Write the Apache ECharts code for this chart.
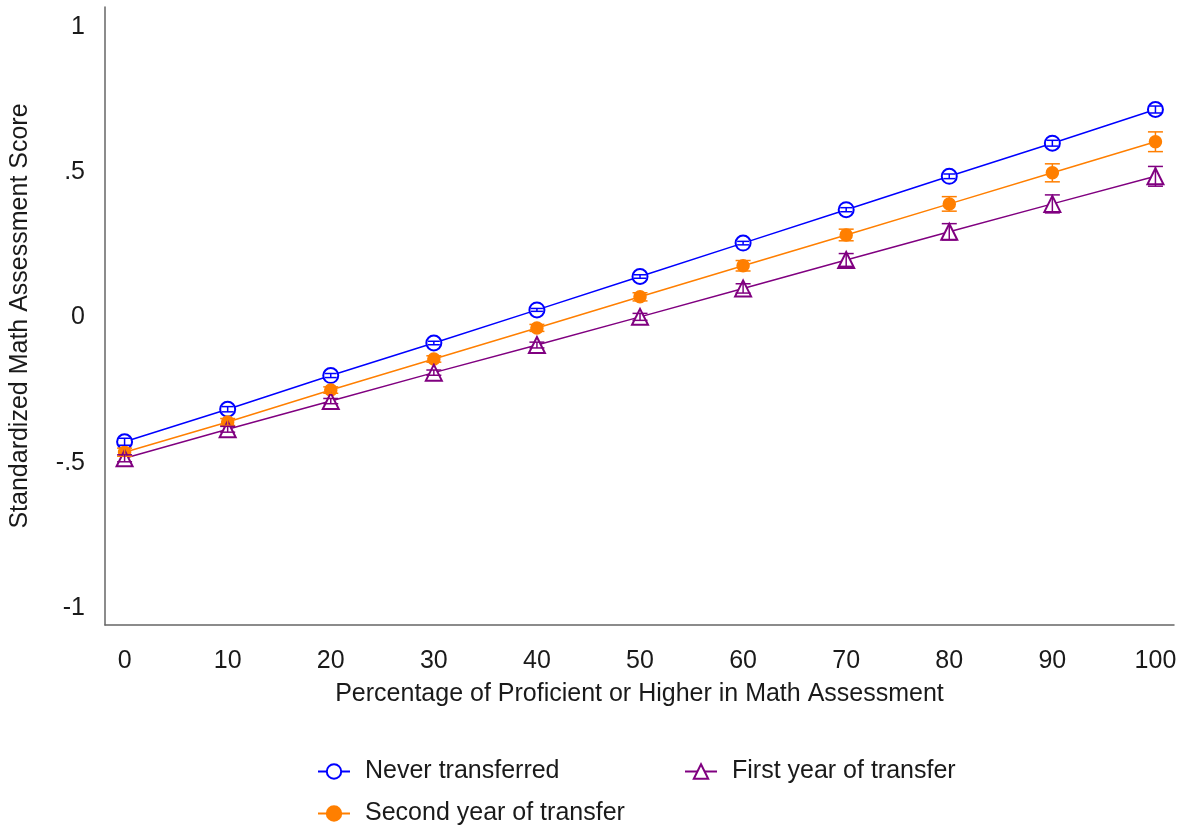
<!DOCTYPE html>
<html>
<head>
<meta charset="utf-8">
<script src="https://cdn.jsdelivr.net/npm/echarts@6/dist/echarts.min.js"></script>
<style>html,body{margin:0;padding:0;background:#fff}#c{width:1183px;height:828px}</style>
</head>
<body>
<div id="c"></div>
<script>
const xValues = [0, 10, 20, 30, 40, 50, 60, 70, 80, 90, 100];
const neverTransferred = [-0.428, -0.316, -0.200, -0.088, 0.026, 0.141, 0.256, 0.371, 0.486, 0.600, 0.716];
const neverErr = [0.012, 0.009, 0.007, 0.006, 0.005, 0.006, 0.006, 0.007, 0.008, 0.010, 0.012];
const secondYear = [-0.464, -0.360, -0.250, -0.143, -0.036, 0.071, 0.178, 0.284, 0.391, 0.498, 0.605];
const secondErr = [0.014, 0.012, 0.011, 0.011, 0.012, 0.014, 0.018, 0.020, 0.025, 0.031, 0.034];
const firstYear = [-0.485, -0.385, -0.288, -0.190, -0.095, 0.002, 0.100, 0.198, 0.295, 0.391, 0.486];
const firstErr = [0.012, 0.010, 0.009, 0.009, 0.010, 0.012, 0.016, 0.022, 0.028, 0.031, 0.034];
const yTicks = [-1, -0.5, 0, 0.5, 1];
const yTickLabels = ['-1', '-.5', '0', '.5', '1'];
const xTicks = [0, 10, 20, 30, 40, 50, 60, 70, 80, 90, 100];
const seriesNames = ['Never transferred', 'Second year of transfer', 'First year of transfer'];

const FONT = 'Liberation Sans, Arial, sans-serif';
const FS = 25;
const colors = ['#0000ff', '#ff7f00', '#800080'];

function pts(ys) { return xValues.map((x, i) => [x, ys[i]]); }
function errData(ys, es) { return xValues.map((x, i) => [x, ys[i] - es[i], ys[i] + es[i]]); }

function errSeries(name, ys, es, color, capW) {
  return {
    type: 'custom', name: name, z: 5,
    encode: { x: 0, y: [1, 2] },
    data: errData(ys, es),
    renderItem: function (params, api) {
      const x = api.value(0), lo = api.value(1), hi = api.value(2);
      const a = api.coord([x, lo]), b = api.coord([x, hi]);
      const w = capW / 2;
      const st = { stroke: color, lineWidth: 1.5 };
      return { type: 'group', children: [
        { type: 'line', shape: { x1: a[0], y1: a[1], x2: b[0], y2: b[1] }, style: st },
        { type: 'line', shape: { x1: a[0] - w, y1: a[1], x2: a[0] + w, y2: a[1] }, style: st },
        { type: 'line', shape: { x1: b[0] - w, y1: b[1], x2: b[0] + w, y2: b[1] }, style: st }
      ]};
    }
  };
}

function lineSeries(name, ys, color, symbol, size, z) {
  return {
    type: 'line', name: name, data: pts(ys), z: z,
    symbol: symbol, symbolSize: size, showAllSymbol: true,
    itemStyle: { color: color, borderColor: color, borderWidth: 1.5 },
    lineStyle: { color: color, width: 1.5 },
    emphasis: { disabled: true }, animation: false
  };
}

const chart = echarts.init(document.getElementById('c'), null, { renderer: 'canvas' });
const legendBase = {
  orient: 'horizontal', itemWidth: 32, itemHeight: 18, selectedMode: false,
  textStyle: { fontFamily: FONT, fontSize: FS, color: '#1a1a1a', padding: [0, 0, 0, 10] }
};
chart.setOption({
  backgroundColor: '#ffffff',
  animation: false,
  grid: { left: 104.5, right: 9, top: 7, bottom: 203, containLabel: false },
  legend: [
    Object.assign({}, legendBase, { left: 312, top: 754, data: [seriesNames[0]] }),
    Object.assign({}, legendBase, { left: 679, top: 754, data: [seriesNames[2]] }),
    Object.assign({}, legendBase, { left: 312, top: 796, data: [seriesNames[1]] })
  ],
  xAxis: {
    type: 'value', min: -1.9, max: 101.8,
    name: 'Percentage of Proficient or Higher in Math Assessment',
    nameLocation: 'middle', nameGap: 57,
    nameTextStyle: { fontFamily: FONT, fontSize: FS, color: '#1a1a1a' },
    axisLine: { show: true, onZero: false, lineStyle: { color: '#666666', width: 1.5 } },
    axisTick: { show: false },
    splitLine: { show: false },
    axisLabel: { customValues: xTicks, fontFamily: FONT, fontSize: FS, color: '#1a1a1a', margin: 24 }
  },
  yAxis: {
    type: 'value', min: -1.059, max: 1.069,
    name: 'Standardized Math Assessment Score',
    nameLocation: 'middle', nameGap: 72,
    nameTextStyle: { fontFamily: FONT, fontSize: FS, color: '#1a1a1a' },
    axisLine: { show: true, onZero: false, lineStyle: { color: '#666666', width: 1.5 } },
    axisTick: { show: false },
    splitLine: { show: false },
    axisLabel: {
      customValues: yTicks, fontFamily: FONT, fontSize: FS, color: '#1a1a1a', margin: 20,
      formatter: function (v) { const i = yTicks.findIndex(t => Math.abs(t - v) < 1e-9); return i >= 0 ? yTickLabels[i] : ''; }
    }
  },
  series: [
    lineSeries(seriesNames[0], neverTransferred, colors[0], 'emptyCircle', 15, 2),
    lineSeries(seriesNames[1], secondYear, colors[1], 'circle', 12, 3),
    lineSeries(seriesNames[2], firstYear, colors[2], 'emptyTriangle', 16, 4),
    errSeries('err0', neverTransferred, neverErr, colors[0], 12),
    errSeries('err1', secondYear, secondErr, colors[1], 15),
    errSeries('err2', firstYear, firstErr, colors[2], 15)
  ]
});
</script>
</body>
</html>
